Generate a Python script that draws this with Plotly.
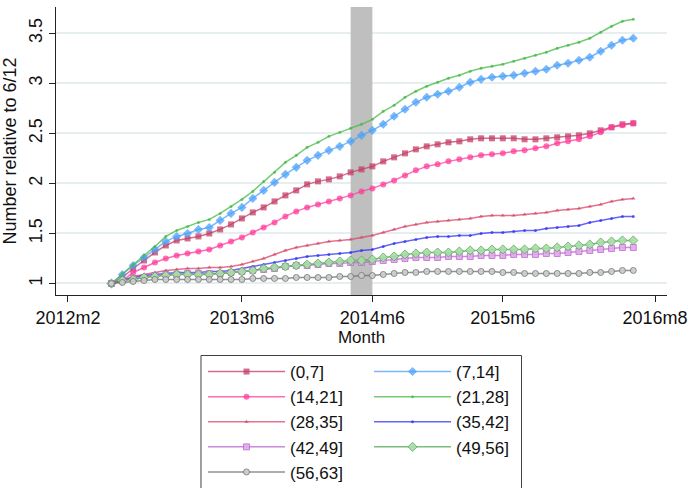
import plotly.graph_objects as go

# Monthly index ratios relative to June 2012, by bin
start_month = "2012m6"
labels = ["(0,7]", "(7,14]", "(14,21]", "(21,28]", "(28,35]",
          "(35,42]", "(42,49]", "(49,56]", "(56,63]"]

s_0_7 = [1.00, 1.06, 1.15, 1.23, 1.31, 1.38, 1.43, 1.45, 1.47, 1.50, 1.54, 1.59, 1.65,
         1.71, 1.76, 1.82, 1.88, 1.93, 1.99, 2.02, 2.04, 2.07, 2.11, 2.14, 2.17,
         2.22, 2.26, 2.30, 2.34, 2.37, 2.39, 2.41, 2.42, 2.44, 2.45, 2.45, 2.45,
         2.45, 2.44, 2.44, 2.45, 2.46, 2.47, 2.48, 2.50, 2.53, 2.56, 2.59, 2.60]
s_7_14 = [1.00, 1.09, 1.18, 1.26, 1.34, 1.42, 1.47, 1.50, 1.54, 1.56, 1.63, 1.70, 1.76,
          1.85, 1.93, 2.01, 2.09, 2.16, 2.23, 2.28, 2.33, 2.37, 2.42, 2.48, 2.53,
          2.59, 2.67, 2.74, 2.81, 2.86, 2.89, 2.92, 2.96, 3.01, 3.04, 3.06, 3.07,
          3.08, 3.10, 3.12, 3.14, 3.18, 3.20, 3.23, 3.26, 3.32, 3.38, 3.43, 3.45]
s_14_21 = [1.00, 1.03, 1.11, 1.16, 1.21, 1.25, 1.28, 1.30, 1.32, 1.34, 1.38, 1.42, 1.46,
           1.51, 1.56, 1.61, 1.67, 1.72, 1.76, 1.79, 1.82, 1.85, 1.88, 1.92, 1.95,
           1.99, 2.03, 2.08, 2.13, 2.17, 2.19, 2.22, 2.24, 2.26, 2.28, 2.29, 2.30,
           2.32, 2.33, 2.35, 2.37, 2.40, 2.42, 2.44, 2.47, 2.51, 2.56, 2.58, 2.60]
s_21_28 = [1.00, 1.10, 1.19, 1.28, 1.37, 1.47, 1.53, 1.57, 1.61, 1.64, 1.70, 1.77, 1.84,
           1.92, 2.02, 2.11, 2.21, 2.28, 2.36, 2.41, 2.47, 2.51, 2.55, 2.59, 2.64,
           2.72, 2.78, 2.86, 2.92, 2.97, 3.01, 3.05, 3.08, 3.12, 3.15, 3.17, 3.19,
           3.22, 3.25, 3.28, 3.31, 3.35, 3.38, 3.41, 3.45, 3.51, 3.57, 3.62, 3.64]
s_28_35 = [1.00, 1.03, 1.07, 1.09, 1.11, 1.13, 1.14, 1.15, 1.15, 1.16, 1.16, 1.17, 1.19,
           1.22, 1.25, 1.29, 1.33, 1.36, 1.38, 1.40, 1.42, 1.43, 1.44, 1.46, 1.48,
           1.51, 1.54, 1.57, 1.59, 1.61, 1.62, 1.63, 1.64, 1.65, 1.67, 1.68, 1.68,
           1.68, 1.69, 1.70, 1.71, 1.73, 1.74, 1.75, 1.77, 1.79, 1.82, 1.84, 1.85]
s_35_42 = [1.00, 1.03, 1.06, 1.08, 1.09, 1.10, 1.11, 1.11, 1.11, 1.12, 1.12, 1.13, 1.15,
           1.17, 1.19, 1.21, 1.23, 1.25, 1.27, 1.28, 1.29, 1.30, 1.31, 1.33, 1.34,
           1.37, 1.40, 1.42, 1.44, 1.46, 1.47, 1.47, 1.48, 1.48, 1.50, 1.51, 1.51,
           1.52, 1.53, 1.53, 1.55, 1.56, 1.57, 1.58, 1.61, 1.63, 1.65, 1.67, 1.67]
s_42_49 = [1.00, 1.03, 1.05, 1.06, 1.08, 1.09, 1.09, 1.10, 1.10, 1.10, 1.10, 1.11, 1.12,
           1.13, 1.14, 1.15, 1.17, 1.18, 1.18, 1.19, 1.20, 1.20, 1.21, 1.21, 1.22,
           1.23, 1.24, 1.25, 1.26, 1.26, 1.26, 1.27, 1.27, 1.27, 1.28, 1.28, 1.28,
           1.29, 1.29, 1.29, 1.30, 1.30, 1.31, 1.32, 1.33, 1.34, 1.35, 1.36, 1.36]
s_49_56 = [1.00, 1.03, 1.04, 1.06, 1.07, 1.08, 1.09, 1.09, 1.09, 1.09, 1.10, 1.11, 1.12,
           1.13, 1.15, 1.16, 1.17, 1.18, 1.19, 1.20, 1.21, 1.22, 1.23, 1.23, 1.24,
           1.26, 1.27, 1.29, 1.30, 1.31, 1.31, 1.31, 1.32, 1.33, 1.33, 1.34, 1.34,
           1.34, 1.34, 1.35, 1.35, 1.36, 1.37, 1.38, 1.39, 1.41, 1.42, 1.43, 1.43]
s_56_63 = [1.00, 1.01, 1.02, 1.03, 1.04, 1.04, 1.04, 1.04, 1.04, 1.04, 1.04, 1.04, 1.04,
           1.05, 1.05, 1.05, 1.05, 1.06, 1.06, 1.06, 1.06, 1.07, 1.07, 1.08, 1.08,
           1.09, 1.10, 1.11, 1.11, 1.12, 1.12, 1.12, 1.12, 1.12, 1.12, 1.12, 1.11,
           1.11, 1.10, 1.10, 1.10, 1.10, 1.10, 1.10, 1.11, 1.11, 1.12, 1.13, 1.13]

series = [s_0_7, s_7_14, s_14_21, s_21_28, s_28_35, s_35_42, s_42_49, s_49_56, s_56_63]

x_ticks = ["2012m2", "2013m6", "2014m6", "2015m6", "2016m8"]
y_ticks = [1, 1.5, 2, 2.5, 3, 3.5]
y_range = [0.885, 3.762]
shade_months = ["2014m4", "2014m6"]


def tm(s):
    """Stata-style monthly date: months since 1960m1."""
    y, m = s.split("m")
    return (int(y) - 1960) * 12 + int(m) - 1


t0 = tm(start_month)
months = [t0 + i for i in range(len(s_0_7))]

styles = [
    dict(color="rgba(195,60,100,0.75)", symbol="square", size=6),
    dict(color="rgba(75,160,250,0.75)", symbol="diamond", size=7),
    dict(color="rgba(255,60,155,0.75)", symbol="circle", size=6),
    dict(color="rgba(70,185,70,0.75)", symbol="circle", size=3),
    dict(color="rgba(215,70,105,0.75)", symbol="triangle-up", size=4),
    dict(color="rgba(50,50,245,0.75)", symbol="circle", size=3),
    dict(color="rgba(185,100,205,0.75)", symbol="square", size=6),
    dict(color="rgba(80,170,80,0.75)", symbol="diamond", size=7),
    dict(color="rgba(110,110,110,0.75)", symbol="circle", size=6),
]
fills = [None, None, None, None, None, None,
         "rgba(225,170,235,0.9)", "rgba(170,220,170,0.9)", "rgba(205,205,205,0.9)"]

font = "Liberation Sans, Arial, sans-serif"

fig = go.Figure()

# Shaded period, drawn first so it sits above the grid and below the series
sx0, sx1 = tm(shade_months[0]), tm(shade_months[1])
fig.add_trace(go.Scatter(
    x=[sx0, sx1, sx1, sx0, sx0],
    y=[y_range[0], y_range[0], y_range[1], y_range[1], y_range[0]],
    mode="lines", fill="toself", fillcolor="#bfbfbf",
    line=dict(width=0), hoverinfo="skip", showlegend=False,
))

for k, (lab, vals, st) in enumerate(zip(labels, series, styles)):
    mk = dict(symbol=st["symbol"], size=st["size"], color=st["color"])
    if fills[k]:
        mk["color"] = fills[k]
        mk["line"] = dict(color=st["color"], width=1)
    fig.add_trace(go.Scatter(
        x=months, y=vals, name=lab, mode="lines+markers",
        line=dict(color=st["color"], width=1.5),
        marker=mk,
        legend="legend" if k % 2 == 0 else "legend2",
    ))

# Legend frame
fig.add_shape(type="rect", xref="paper", yref="paper",
              x0=0.2373, x1=0.7619, y0=-0.2101, y1=-0.75,
              line=dict(color="#404040", width=1), fillcolor="rgba(0,0,0,0)")

legend_common = dict(orientation="v", yanchor="top", xanchor="left",
                     font=dict(family=font, size=17, color="#111"),
                     itemwidth=77, bgcolor="rgba(0,0,0,0)", borderwidth=0,
                     tracegroupgap=0)

fig.update_layout(
    width=691, height=488,
    margin=dict(l=56, r=24, t=7, b=193, autoexpand=False),
    paper_bgcolor="white", plot_bgcolor="white",
    font=dict(family=font, color="#111"),
    legend=dict(x=0.2406, y=-0.2049, **legend_common),
    legend2=dict(x=0.5123, y=-0.2049, **legend_common),
    xaxis=dict(
        range=[tm(x_ticks[0]) - 1.1, tm(x_ticks[-1]) + 1.1],
        tickvals=[tm(s) for s in x_ticks], ticktext=x_ticks,
        tickfont=dict(family=font, size=18, color="#111"),
        ticks="outside", ticklen=6, tickcolor="#222", tickwidth=1,
        showgrid=False, zeroline=False,
        showline=True, linecolor="#222", linewidth=1,
        title=dict(text="Month", font=dict(family=font, size=17, color="#111"),
                   standoff=2),
    ),
    yaxis=dict(
        range=y_range,
        tickvals=y_ticks, ticktext=[f"{v:g}" for v in y_ticks],
        tickangle=-90,
        tickfont=dict(family=font, size=18, color="#111"),
        ticks="outside", ticklen=6, tickcolor="#222", tickwidth=1,
        showgrid=True, gridcolor="#e6eef0", gridwidth=1.5,
        zeroline=False,
        showline=True, linecolor="#222", linewidth=1,
        title=dict(text="Number relative to 6/12",
                   font=dict(family=font, size=18, color="#111"), standoff=4),
    ),
)

fig.write_html("out.html")
